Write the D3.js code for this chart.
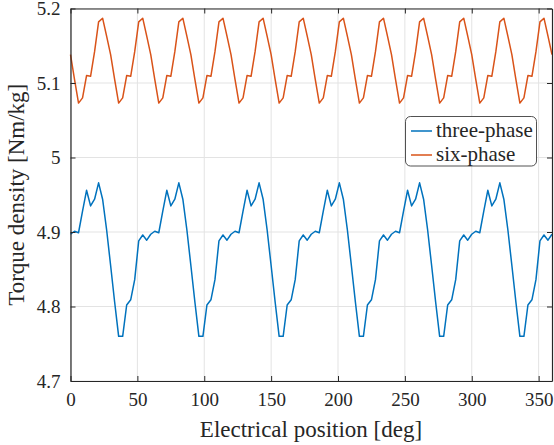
<!DOCTYPE html>
<html>
<head>
<meta charset="utf-8">
<script src="https://d3js.org/d3.v7.min.js"></script>
<style>
  body { margin: 0; background: #fff; }
  text { font-family: "Liberation Serif", "Times New Roman", serif; fill: #262626; }
</style>
</head>
<body>
<svg width="554" height="445"></svg>
<script>
// electrical position, deg (3 deg steps)
var positions = d3.range(0, 361, 3);

var threePhase = [
  4.897,4.901,4.899,4.928,4.956,4.935,4.944,4.966,4.944,4.903,4.855,4.806,4.760,4.760,4.802,4.809,4.836,4.888,4.896,4.889,
  4.897,4.901,4.899,4.928,4.956,4.935,4.944,4.966,4.944,4.903,4.855,4.806,4.760,4.760,4.802,4.809,4.836,4.888,4.896,4.889,
  4.897,4.901,4.899,4.928,4.956,4.935,4.944,4.966,4.944,4.903,4.855,4.806,4.760,4.760,4.802,4.809,4.836,4.888,4.896,4.889,
  4.897,4.901,4.899,4.928,4.956,4.935,4.944,4.966,4.944,4.903,4.855,4.806,4.760,4.760,4.802,4.809,4.836,4.888,4.896,4.889,
  4.897,4.901,4.899,4.928,4.956,4.935,4.944,4.966,4.944,4.903,4.855,4.806,4.760,4.760,4.802,4.809,4.836,4.888,4.896,4.889,
  4.897,4.901,4.899,4.928,4.956,4.935,4.944,4.966,4.944,4.903,4.855,4.806,4.760,4.760,4.802,4.809,4.836,4.888,4.896,4.889,
  4.897
];

var sixPhase = [
  5.138,5.105,5.073,5.080,5.110,5.109,5.142,5.182,5.187,5.163,
  5.138,5.105,5.073,5.080,5.110,5.109,5.142,5.182,5.187,5.163,
  5.138,5.105,5.073,5.080,5.110,5.109,5.142,5.182,5.187,5.163,
  5.138,5.105,5.073,5.080,5.110,5.109,5.142,5.182,5.187,5.163,
  5.138,5.105,5.073,5.080,5.110,5.109,5.142,5.182,5.187,5.163,
  5.138,5.105,5.073,5.080,5.110,5.109,5.142,5.182,5.187,5.163,
  5.138,5.105,5.073,5.080,5.110,5.109,5.142,5.182,5.187,5.163,
  5.138,5.105,5.073,5.080,5.110,5.109,5.142,5.182,5.187,5.163,
  5.138,5.105,5.073,5.080,5.110,5.109,5.142,5.182,5.187,5.163,
  5.138,5.105,5.073,5.080,5.110,5.109,5.142,5.182,5.187,5.163,
  5.138,5.105,5.073,5.080,5.110,5.109,5.142,5.182,5.187,5.163,
  5.138,5.105,5.073,5.080,5.110,5.109,5.142,5.182,5.187,5.163,
  5.138
];

var seriesNames = ["three-phase", "six-phase"];
var seriesColors = ["#0072BD", "#D95319"];
var xTicks = [0, 50, 100, 150, 200, 250, 300, 350];
var yTicks = [4.7, 4.8, 4.9, 5.0, 5.1, 5.2];

var svg = d3.select("svg"),
    pl = 70.5, pr = 552, pt = 8.5, pb = 381;

var x = d3.scaleLinear().domain([0, 360]).range([pl, pr]);
var y = d3.scaleLinear().domain([4.7, 5.2]).range([pb, pt]);

// grid
svg.append("g").selectAll("line").data(xTicks).enter().append("line")
  .attr("x1", d => x(d)).attr("x2", d => x(d))
  .attr("y1", pt).attr("y2", pb)
  .attr("stroke", "#e3e3e3").attr("stroke-width", 1);
svg.append("g").selectAll("line").data(yTicks).enter().append("line")
  .attr("x1", pl).attr("x2", pr)
  .attr("y1", d => y(d)).attr("y2", d => y(d))
  .attr("stroke", "#e3e3e3").attr("stroke-width", 1);

// lines
var line = d3.line().x((d, i) => x(positions[i])).y(d => y(d));
[threePhase, sixPhase].forEach(function(vals, k) {
  svg.append("path").datum(vals)
    .attr("d", line)
    .attr("fill", "none")
    .attr("stroke", seriesColors[k])
    .attr("stroke-width", 1.5)
    .attr("stroke-linejoin", "round");
});

// axes (ticks inward, box)
function fmt(d) { return d === 5 ? "5" : d3.format(".1f")(d); }

var xAxis = svg.append("g").attr("transform", "translate(0," + pb + ")")
  .call(d3.axisBottom(x).tickValues(xTicks).tickSizeInner(-5).tickSizeOuter(0).tickPadding(12));
var xTop = svg.append("g").attr("transform", "translate(0," + pt + ")")
  .call(d3.axisTop(x).tickValues(xTicks).tickSizeInner(-5).tickSizeOuter(0).tickFormat(""));
var yAxis = svg.append("g").attr("transform", "translate(" + pl + ",0)")
  .call(d3.axisLeft(y).tickValues(yTicks).tickSizeInner(-5).tickSizeOuter(0).tickPadding(10).tickFormat(fmt));
var yRight = svg.append("g").attr("transform", "translate(" + pr + ",0)")
  .call(d3.axisRight(y).tickValues(yTicks).tickSizeInner(-5).tickSizeOuter(0).tickFormat(""));

[xAxis, xTop, yAxis, yRight].forEach(function(a) {
  a.select(".domain").attr("stroke", "#262626").attr("stroke-width", 1.2);
  a.selectAll(".tick line").attr("stroke", "#262626");
  a.selectAll(".tick text").attr("font-family", "Liberation Serif").attr("font-size", 19).attr("fill", "#262626");
});

// axis labels
svg.append("text")
  .attr("x", 311).attr("y", 437)
  .attr("text-anchor", "middle").attr("font-size", 23)
  .text("Electrical position [deg]");
svg.append("text")
  .attr("transform", "translate(24," + (pt + pb) / 2 + ") rotate(-90)")
  .attr("text-anchor", "middle").attr("font-size", 23)
  .text("Torque density [Nm/kg]");

// legend
var lg = svg.append("g");
lg.append("rect").attr("x", 405.5).attr("y", 116.5).attr("width", 131).attr("height", 49.5)
  .attr("rx", 5).attr("fill", "#fff").attr("stroke", "#262626").attr("stroke-width", 0.8);
seriesNames.forEach(function(n, k) {
  var ly = 131 + k * 24;
  lg.append("line").attr("x1", 411).attr("x2", 432).attr("y1", ly).attr("y2", ly)
    .attr("stroke", seriesColors[k]).attr("stroke-width", 1.5);
  lg.append("text").attr("x", 436).attr("y", ly + 6).attr("font-size", 21).attr("fill", "#000").text(n);
});
</script>
</body>
</html>
